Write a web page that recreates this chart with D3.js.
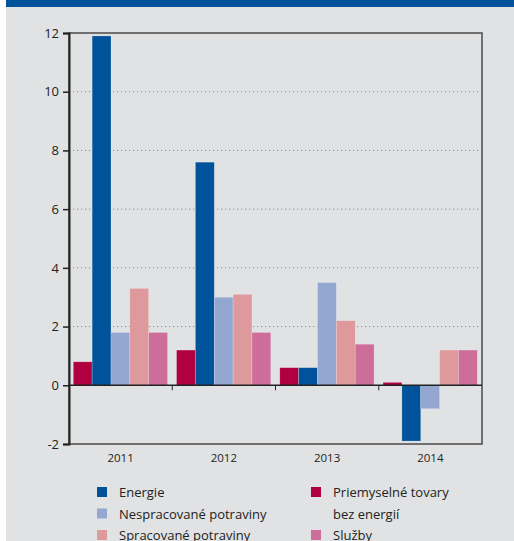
<!DOCTYPE html>
<html><head><meta charset="utf-8">
<script src="https://cdn.jsdelivr.net/npm/d3@7"></script>
<style>body{margin:0;background:#fff;}svg{display:block;}</style>
</head><body>
<script>
const years = ["2011","2012","2013","2014"];
const seriesNames = ["Priemyselné tovary bez energií","Energie","Nespracované potraviny","Spracované potraviny","Služby"];
const priemyselne = [0.8, 1.2, 0.6, 0.1];
const energie = [11.9, 7.6, 0.6, -1.9];
const nespracovane = [1.8, 3.0, 3.5, -0.8];
const spracovane = [3.3, 3.1, 2.2, 1.2];
const sluzby = [1.8, 1.8, 1.4, 1.2];
const yTicks = [-2, 0, 2, 4, 6, 8, 10, 12];
const seriesValues = [priemyselne, energie, nespracovane, spracovane, sluzby];
const colors = ["#b0003f", "#00529b", "#94a7d1", "#dd999c", "#cc6e99"];

const W = 514, H = 541;
const svg = d3.select("body").append("svg").attr("width", W).attr("height", H);
svg.append("rect").attr("x", 6).attr("y", 0).attr("width", W - 6).attr("height", H).attr("fill", "#e1e2e3");
svg.append("rect").attr("x", 6).attr("y", 0).attr("width", W - 6).attr("height", 7).attr("fill", "#00529b");

const L = 69, R = 482, T = 33, B = 444;
const x0 = d3.scaleBand().domain(years).range([L, R]).paddingInner(0).paddingOuter(0);
const x1 = d3.scaleBand().domain(d3.range(5)).range([4.3, x0.bandwidth() - 4.7]).padding(0);
const y = d3.scaleLinear().domain([-2, 12]).range([B, T]);

// grid
svg.append("g").selectAll("line").data(yTicks.filter(d => d > 0 && d < 12)).join("line")
  .attr("x1", L).attr("x2", R).attr("y1", d => y(d)).attr("y2", d => y(d))
  .attr("stroke", "#8a8a8a").attr("stroke-width", 1).attr("stroke-dasharray", "1.2,2.8");

// bars
const g = svg.append("g");
years.forEach((yr, i) => {
  seriesValues.forEach((vals, s) => {
    const v = vals[i];
    g.append("rect")
      .attr("x", x0(yr) + x1(s))
      .attr("width", x1.bandwidth())
      .attr("y", y(Math.max(0, v)))
      .attr("height", Math.abs(y(v) - y(0)))
      .attr("fill", colors[s])
      .attr("stroke", "rgba(255,255,255,0.35)").attr("stroke-width", 0.6);
  });
});

// frame
svg.append("rect").attr("x", L).attr("y", T).attr("width", R - L).attr("height", B - T)
  .attr("fill", "none").attr("stroke", "#4a4a4a").attr("stroke-width", 1.5);

// left axis
const yAxis = d3.axisLeft(y).tickValues(yTicks).tickSize(6).tickPadding(4).tickFormat(d => d < 0 ? "-" + Math.abs(d) : d);
const ya = svg.append("g").attr("transform", `translate(${L},0)`).call(yAxis);
ya.select(".domain").attr("stroke", "#222").attr("stroke-width", 2);
ya.selectAll(".tick line").attr("stroke", "#222").attr("stroke-width", 1.5);
ya.selectAll("text").attr("font-family", "'Open Sans', sans-serif").attr("font-size", 13).attr("fill", "#222");

// zero line
svg.append("line").attr("x1", L).attr("x2", R).attr("y1", y(0)).attr("y2", y(0))
  .attr("stroke", "#222").attr("stroke-width", 1.5);
// category ticks
svg.append("g").selectAll("line").data(years.slice(1)).join("line")
  .attr("x1", d => x0(d)).attr("x2", d => x0(d)).attr("y1", y(0)).attr("y2", y(0) + 5)
  .attr("stroke", "#222").attr("stroke-width", 1);
// year labels
svg.append("g").selectAll("text").data(years).join("text")
  .attr("x", d => x0(d) + x0.bandwidth() / 2).attr("y", B + 18)
  .attr("text-anchor", "middle").attr("font-family", "'Open Sans', sans-serif").attr("font-size", 11.5).attr("fill", "#222")
  .text(d => d);

// legend
const legend = [
  {s: 1, col: 0, row: 0, lines: ["Energie"]},
  {s: 2, col: 0, row: 1, lines: ["Nespracované potraviny"]},
  {s: 3, col: 0, row: 2, lines: ["Spracované potraviny"]},
  {s: 0, col: 1, row: 0, lines: ["Priemyselné tovary", "bez energií"]},
  {s: 4, col: 1, row: 2, lines: ["Služby"]}
];
const lg = svg.append("g");
legend.forEach(d => {
  const lx = d.col === 0 ? 97 : 311;
  const ly = 487 + d.row * 21.5;
  lg.append("rect").attr("x", lx).attr("y", ly).attr("width", 10).attr("height", 10).attr("fill", colors[d.s]);
  d.lines.forEach((t, k) => {
    lg.append("text").attr("x", lx + 22).attr("y", ly + 10 + k * 21.5)
      .attr("font-family", "'Open Sans', sans-serif").attr("font-size", 13).attr("fill", "#222").text(t);
  });
});
</script>
</body></html>
